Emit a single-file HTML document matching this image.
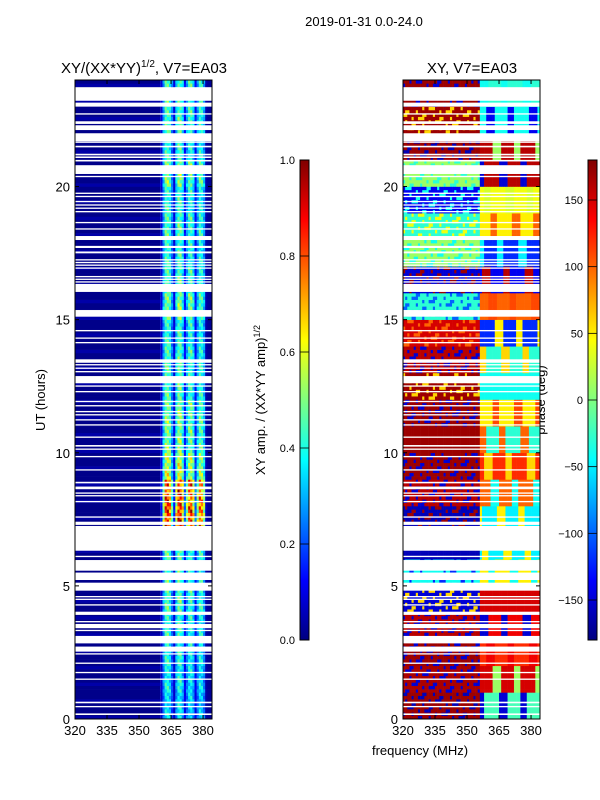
<!DOCTYPE html>
<html><head><meta charset="utf-8">
<style>
body{margin:0;background:#fff;}
svg{display:block;font-family:"Liberation Sans",sans-serif;}
text{fill:#000;}
</style></head>
<body>
<svg id="fig" width="600" height="800" xmlns="http://www.w3.org/2000/svg">
  <text x="364" y="26" font-size="13" text-anchor="middle">2019-01-31 0.0-24.0</text>
  <text x="144" y="73" font-size="15" text-anchor="middle">XY/(XX*YY)<tspan font-size="10" dy="-6">1/2</tspan><tspan dy="6">, V7=EA03</tspan></text>
  <text x="472" y="73" font-size="15" text-anchor="middle">XY, V7=EA03</text>
  <text transform="translate(45,400) rotate(-90)" font-size="13" text-anchor="middle">UT (hours)</text>
  <text x="420" y="755" font-size="13" text-anchor="middle">frequency (MHz)</text>
  <text transform="translate(265,400) rotate(-90)" font-size="13" text-anchor="middle">XY amp. / (XX*YY amp)<tspan font-size="9" dy="-5">1/2</tspan></text>
  <text transform="translate(545,400) rotate(-90)" font-size="13" text-anchor="middle">phase (deg)</text>
  <defs>
    <linearGradient id="jetg" x1="0" y1="1" x2="0" y2="0"></linearGradient>
  </defs>
  <g id="amp"></g>
  <g id="phs"></g>
  <g id="axes"></g>
</svg>
<script>
// ---- data ----
const flaggedGaps = [[23.22,23.73],[23.0,23.15],[22.7,22.75],[22.35,22.45],[22.12,22.3],[21.7,22.0],[21.64,21.69],[21.47,21.53],[21.17,21.23],[21.07,21.13],[20.94,21.0],[20.47,20.8],[20.35,20.4],[19.72,19.77],[19.6,19.65],[19.41,19.46],[19.28,19.33],[19.16,19.21],[19.03,19.08],[18.62,18.67],[18.38,18.43],[17.99,18.14],[17.69,17.77],[17.49,17.56],[17.22,17.27],[17.12,17.17],[17.02,17.07],[16.91,16.96],[16.59,16.64],[16.49,16.54],[16.39,16.44],[16.04,16.34],[15.11,15.36],[14.56,14.61],[14.28,14.33],[14.11,14.16],[13.38,13.51],[13.28,13.33],[13.15,13.2],[13.02,13.07],[12.61,12.88],[12.48,12.53],[12.27,12.32],[11.9,11.95],[11.74,11.79],[11.52,11.57],[11.4,11.45],[11.21,11.26],[11.02,11.07],[10.56,10.61],[10.23,10.29],[10.11,10.16],[9.83,9.88],[9.33,9.38],[8.85,8.91],[8.63,8.73],[8.46,8.51],[8.36,8.41],[8.14,8.19],[7.56,7.61],[7.29,7.41],[6.32,7.25],[6.08,6.13],[5.57,5.97],[5.22,5.5],[4.82,5.12],[4.57,4.62],[4.47,4.52],[4.26,4.31],[3.91,4.03],[3.63,3.68],[3.41,3.57],[3.3,3.35],[2.84,3.12],[2.53,2.72],[2.42,2.47],[2.07,2.12],[1.72,1.77],[1.47,1.52],[0.59,0.65],[0.44,0.49],[0.15,0.21]];
// amplitude of the 360-380 MHz bands per hour (0..23)
const bandAmp = [0.35,0.38,0.4,0.42,0.45,0.45,0.45,0.85,0.82,0.58,0.5,0.5,0.45,0.45,0.42,0.5,0.45,0.42,0.45,0.42,0.5,0.42,0.45,0.45];
// band profile per 1 MHz bin from 360 to 383
const bandShape = [0.15,0.6,0.95,1,0.85,0.5,0.15,0.7,1,1,0.75,0.25,0.6,0.9,0.95,0.7,0.25,0.6,0.9,0.85,0.6,0.05,0,0];
const rowJitter = [0.0,0.12,-0.15,0.05,0.2,-0.1,0.02,-0.2];
// phase (deg) per hour, noisy low-freq part (A/B) and smooth high-freq part (A/B)
const phaseLA = [170,165,170,160,-150,-40,-160,-160,160,170,170,170,170,160,150,-30,-150,10,-30,-140,10,170,170,170];
const phaseLB = [-160,-150,-150,-150,60,-120,-160,170,-150,-150,170,-150,60,-150,100,-100,170,-40,40,-40,-30,-160,60,-150];
const phaseRA = [-20,150,120,140,150,50,-50,-50,100,120,-30,50,-40,-30,-120,100,-140,-120,50,40,160,160,-40,-30];
const phaseRB = [-150,10,140,-150,150,-40,50,50,-40,60,100,110,-40,60,50,110,160,-50,100,30,-150,10,-140,-40];
const patNoise = [0,0,1,0,0,0,1,0,0,0,0,1,0,0,1,0,0,0,0,1,0,0,0,0,1,0,0,0,1];
const patSmooth = [0,0,0,0,0,1,1,1,1,0,0,0,0,0,0,1,1,1,0,0];
const xTicks = [320,335,350,365,380];
const yTicks = [0,5,10,15,20];
const ampTicks = [0.0,0.2,0.4,0.6,0.8,1.0];
const phaseTicks = [-150,-100,-50,0,50,100,150];

// ---- scales ----
const NS='http://www.w3.org/2000/svg';
const Y0=719, Y1=80, HMAX=24;
const yS = h => Y0 - h*(Y0-Y1)/HMAX;
const panels = [{x0:75,x1:212},{x0:403,x1:540}];
const FMIN=320, FMAX=384.2;
const xS = (p,f) => p.x0 + (f-FMIN)*(p.x1-p.x0)/(FMAX-FMIN);
function jet(v){v=Math.max(0,Math.min(1,v));const c=t=>Math.round(255*Math.max(0,Math.min(1,1.5-Math.abs(4*v-t))));return `rgb(${c(3)},${c(2)},${c(1)})`;}
function mk(tag,attrs,parent){const e=document.createElementNS(NS,tag);for(const k in attrs)e.setAttribute(k,attrs[k]);parent.appendChild(e);return e;}

const ampG=document.getElementById('amp'), phsG=document.getElementById('phs'), ax=document.getElementById('axes');
const RH=0.125, nRows=HMAX/RH;
for(let r=0;r<nRows;r++){
  const h=r*RH, hr=Math.floor(h);
  const yt=yS(h+RH), yb=yS(h);
  const p=panels[0];
  let e=mk('rect',{x:p.x0,y:yt,width:xS(p,360)-p.x0,height:yb-yt+0.3,fill:jet(0.01+0.03*(r%5===0))},ampG);
  
  
  for(let i=0;i<bandShape.length;i++){
    const f=360+i;
    const v=0.02+bandShape[i]*bandAmp[hr]*(1+rowJitter[(r+i)%rowJitter.length]);
    e=mk('rect',{x:xS(p,f),y:yt,width:xS(p,f+1)-xS(p,f)+0.3,height:yb-yt+0.3,fill:jet(v)},ampG);
    
    
  }
  const q=panels[1];
  for(let f=FMIN;f<FMAX;f+=1){
    const c=f-FMIN;
    let ph;
    if(f<356){ ph = patNoise[(c*5+r*11)%patNoise.length] ? phaseLB[hr] : phaseLA[hr]; }
    else { ph = patSmooth[(c+hr*3)%patSmooth.length] ? phaseRB[hr] : phaseRA[hr]; }
    e=mk('rect',{x:xS(q,f),y:yt,width:xS(q,Math.min(f+1,FMAX))-xS(q,f)+0.3,height:yb-yt+0.3,fill:jet((ph+180)/360)},phsG);
    
    
  }
}
for(const p of panels){
  for(const g of flaggedGaps){
    const e=mk('rect',{x:p.x0,y:yS(g[1]),width:p.x1-p.x0,height:Math.max(1.2,yS(g[0])-yS(g[1])),fill:'#fff'},ax);
    
    
  }
}
panels.forEach((p,pi)=>{
  let e=mk('rect',{x:p.x0,y:Y1,width:p.x1-p.x0,height:Y0-Y1,fill:'none',stroke:'#000','stroke-width':1},ax);
  
  
  for(const t of xTicks){
    const x=xS(p,t);
    mk('line',{x1:x,x2:x,y1:Y0,y2:Y0-4,stroke:'#000'},ax);
    mk('line',{x1:x,x2:x,y1:Y1,y2:Y1+4,stroke:'#000'},ax);
    e=mk('text',{x:x,y:Y0+16,'font-size':13,'text-anchor':'middle'},ax);
    e.textContent=t;
    
    
  }
  for(const t of yTicks){
    const y=yS(t);
    mk('line',{x1:p.x0,x2:p.x0+4,y1:y,y2:y,stroke:'#000'},ax);
    mk('line',{x1:p.x1,x2:p.x1-4,y1:y,y2:y,stroke:'#000'},ax);
    e=mk('text',{x:p.x0-5,y:y+5,'font-size':13,'text-anchor':'end'},ax);
    e.textContent=t;
    
    
  }
});
const grad=document.getElementById('jetg');
for(let i=0;i<=40;i++){mk('stop',{offset:(i/40),'stop-color':jet(i/40)},grad);}
const cbs=[{x:300,ticks:ampTicks,lo:0,hi:1,fmt:t=>t.toFixed(1),name:'amp-colorbar'},{x:588,ticks:phaseTicks,lo:-180,hi:180,fmt:t=>(t<0?'\u2212'+(-t):''+t),name:'phase-colorbar'}];
const CT=160, CB=640;
for(const cb of cbs){
  let e=mk('rect',{x:cb.x,y:CT,width:9,height:CB-CT,fill:'url(#jetg)',stroke:'#000','stroke-width':1},ax);
  
  
  for(const t of cb.ticks){
    const y=CB-(t-cb.lo)/(cb.hi-cb.lo)*(CB-CT);
    mk('line',{x1:cb.x,x2:cb.x+9,y1:y,y2:y,stroke:'#000','stroke-width':0.8},ax);
    e=mk('text',{x:cb.x-5,y:y+4,'font-size':11,'text-anchor':'end'},ax);
    e.textContent=cb.fmt(t);
    
    
  }
}
</script>
</body></html>
